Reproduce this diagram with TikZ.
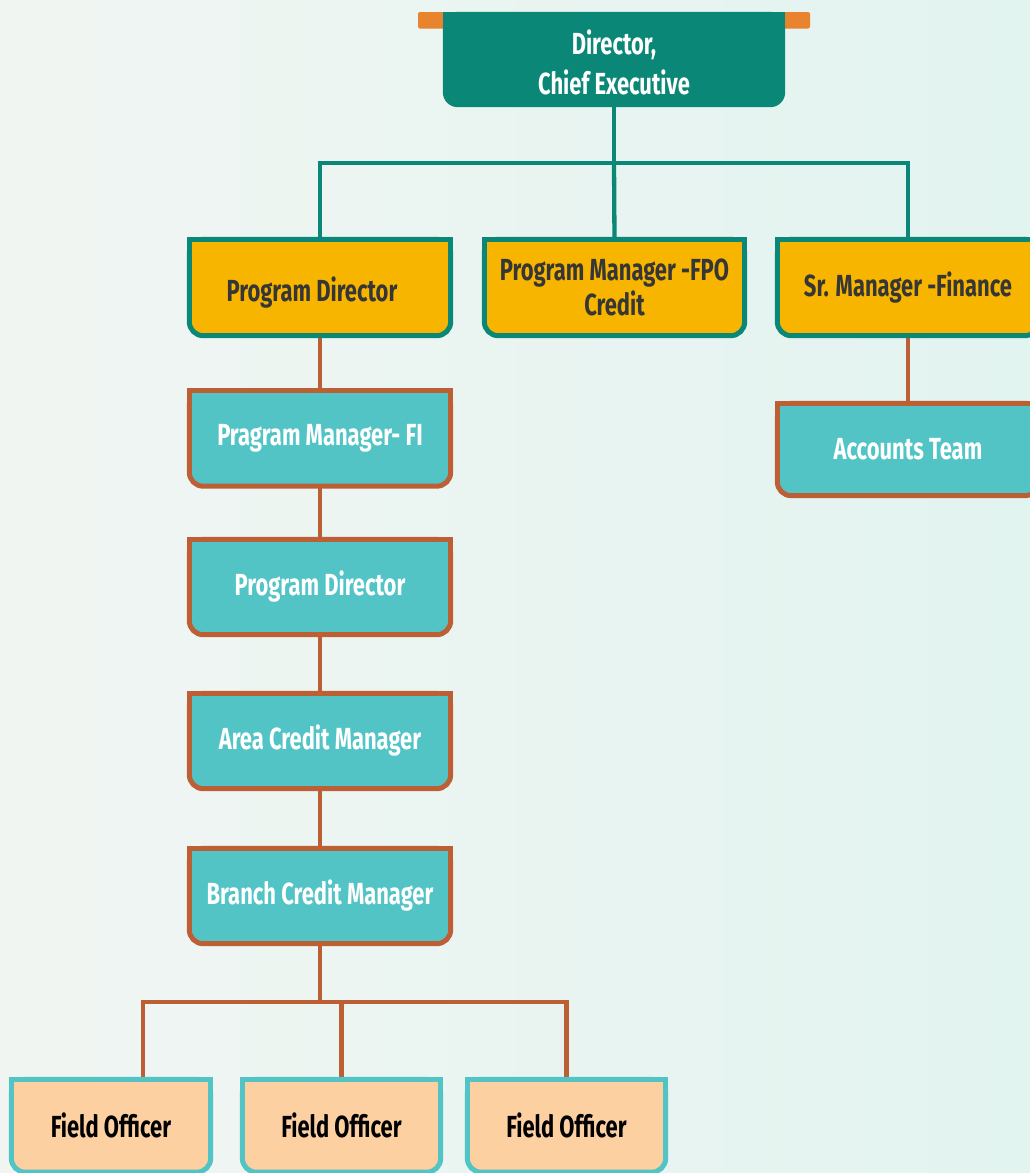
\documentclass[tikz,border=0pt]{standalone}
\usepackage{fontspec}
\setmainfont{Fira Sans}[FakeStretch=0.72]
\usetikzlibrary{backgrounds,calc}
\definecolor{cTeal}{HTML}{0A8777}
\definecolor{cOrange}{HTML}{E8832E}
\definecolor{cYellow}{HTML}{F7B500}
\definecolor{cCyan}{HTML}{52C4C6}
\definecolor{cBrown}{HTML}{BC5F35}
\definecolor{cPeach}{HTML}{FDD0A2}
\definecolor{cDark}{HTML}{363636}
\definecolor{cBgA}{HTML}{F1F5F2}
\definecolor{cBgB}{HTML}{E2F4F0}
\pgfdeclarelayer{bgpage}
\pgfsetlayers{bgpage,background,main}
\newcommand\orgbox[3]{%
  \filldraw[fill=#2,draw=#3,line width=5pt,rounded corners=14pt] (#1.north west) rectangle (#1.south east);
  \fill[#2] (#1.north west) rectangle (#1.east);
  \draw[#3,line width=5pt,line join=miter] (#1.west) -- (#1.north west) -- (#1.north east) -- (#1.east);
}
\tikzset{
  box/.style={rectangle, inner sep=0pt, align=center, font=\fontsize{30.5}{35}\selectfont\bfseries},
  yel/.style={box, minimum width=261pt, minimum height=96pt, text=cDark},
  cya/.style={box, minimum width=261pt, minimum height=95pt, text=white},
  pch/.style={box, minimum width=198pt, minimum height=92.5pt, text=black},
  tline/.style={draw=cTeal, line width=4.3pt},
  bline/.style={draw=cBrown, line width=4.3pt},
}
\begin{document}
\begin{tikzpicture}[x=1pt,y=-1pt]
\useasboundingbox (0,0) rectangle (1030,1173);
\begin{pgfonlayer}{bgpage}
  \shade[left color=cBgA, right color=cBgB] (0,0) rectangle (1030,1173);
\end{pgfonlayer}
% nodes
\node[box, minimum width=342pt, minimum height=95pt, text=white, font=\fontsize{30.5}{40}\selectfont\bfseries] (ceo) at (614,59.5) {\raisebox{-13pt}[0pt][0pt]{\begin{tabular}{@{}c@{}}Director,\\Chief Executive\end{tabular}}};
\node[yel] (pd) at (320,287.5) {\raisebox{-13.5pt}[0pt][0pt]{Program Director\kern16pt}};
\node[yel, minimum width=260pt] (fpo) at (614.5,287.5) {Program Manager -FPO\\Credit};
\node[yel] (sm) at (908,287.5) {Sr. Manager -Finance};
\node[cya] (fi) at (320,438.5) {Pragram Manager- FI};
\node[cya] (pd2) at (320,587) {Program Director};
\node[cya] (acm) at (320,741) {Area Credit Manager};
\node[cya] (bcm) at (320,896) {Branch Credit Manager};
\node[cya, minimum height=92pt] (acc) at (908,449.5) {Accounts Team};
\node[pch, minimum width=199pt] (fo1) at (111,1125.75) {Field Officer};
\node[pch] (fo2) at (341.5,1125.75) {Field Officer};
\node[pch] (fo3) at (566.5,1125.75) {Field Officer};
\coordinate (bus1) at (614,163);
\coordinate (bus2) at (320,1002);
\begin{pgfonlayer}{background}
  % connectors
  \draw[tline] (ceo.south) -- (bus1);
  \draw[tline] (pd.north) |- (bus1) -| (sm.north);
  \draw[tline] (bus1) -- (fpo.north);
  \draw[bline] (pd.south) -- (fi.north);
  \draw[bline] (fi.south) -- (pd2.north);
  \draw[bline] (pd2.south) -- (acm.north);
  \draw[bline] (acm.south) -- (bcm.north);
  \draw[bline] (sm.south) -- (acc.north);
  \draw[bline] (bcm.south) -- (bus2);
  \draw[bline] ([xshift=32pt]fo1.north) |- (bus2) -| (fo3.north);
  \draw[bline] (bus2 -| fo2.north) -- (fo2.north);
  % top box
  \fill[cOrange, rounded corners=2pt] (418,12) rectangle (810,28.5);
  \fill[cTeal, rounded corners=15pt] (ceo.north west) rectangle (ceo.south east);
  \fill[cTeal] (ceo.north west) rectangle (ceo.east);
  % boxes
  \orgbox{pd}{cYellow}{cTeal}
  \orgbox{fpo}{cYellow}{cTeal}
  \orgbox{sm}{cYellow}{cTeal}
  \orgbox{fi}{cCyan}{cBrown}
  \orgbox{pd2}{cCyan}{cBrown}
  \orgbox{acm}{cCyan}{cBrown}
  \orgbox{bcm}{cCyan}{cBrown}
  \orgbox{acc}{cCyan}{cBrown}
  \orgbox{fo1}{cPeach}{cCyan}
  \orgbox{fo2}{cPeach}{cCyan}
  \orgbox{fo3}{cPeach}{cCyan}
\end{pgfonlayer}
\end{tikzpicture}
\end{document}
